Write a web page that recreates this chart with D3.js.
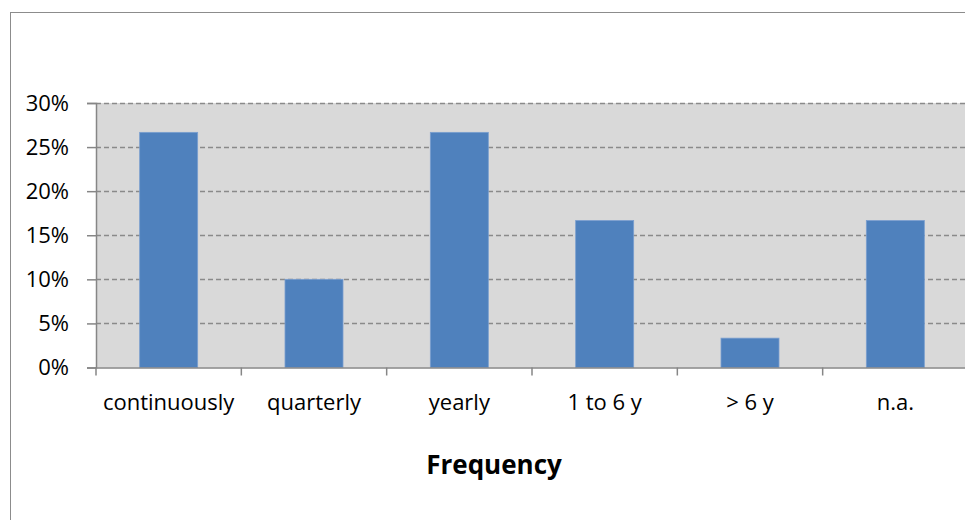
<!DOCTYPE html>
<html><head><meta charset="utf-8">
<script src="https://cdn.jsdelivr.net/npm/d3@7"></script>
<style>body{margin:0;background:#fff}svg{display:block}</style>
</head><body><svg id="c" width="965" height="520"></svg>
<script>
const categories = ["continuously","quarterly","yearly","1 to 6 y","> 6 y","n.a."];
const values = [0.2667,0.10,0.2667,0.1667,0.0333,0.1667];
const yTicks = [0,0.05,0.10,0.15,0.20,0.25,0.30];
const axisTitle = "Frequency";

const svg = d3.select("#c");
const font = "'Open Sans', sans-serif";
// outer chart border
svg.append("rect").attr("x",10.5).attr("y",12.5).attr("width",1000).attr("height",1000)
  .attr("fill","#fff").attr("stroke","#8c8c8c").attr("stroke-width",1);

const L=96, R=968, T=103, B=367.5;
const xb = d3.scaleBand().domain(categories).range([L,R]);
const y = d3.scaleLinear().domain([0,0.30]).range([B,T]);

svg.append("rect").attr("x",L).attr("y",T).attr("width",R-L).attr("height",B-T).attr("fill","#d9d9d9");

// gridlines
svg.append("g").selectAll("line").data(yTicks.filter(d=>d>0)).join("line")
  .attr("x1",L).attr("x2",R).attr("y1",d=>Math.round(y(d))+0.5).attr("y2",d=>Math.round(y(d))+0.5)
  .attr("stroke","#8a8a8a").attr("stroke-width",1.3).attr("stroke-dasharray","5,3");

// bars
svg.append("g").selectAll("rect").data(values).join("rect")
  .attr("x",(d,i)=>xb(categories[i])+xb.bandwidth()/2-29)
  .attr("width",58)
  .attr("y",d=>y(d)).attr("height",d=>B-y(d))
  .attr("fill","#4f81bd").attr("stroke","#7a9fd0").attr("stroke-width",0.8);

// y axis
const ya = svg.append("g").attr("transform",`translate(${L},0)`)
  .call(d3.axisLeft(y).tickValues(yTicks).tickFormat(d3.format(".0%")).tickSizeOuter(0).tickSize(9).tickPadding(18));
ya.select(".domain").attr("stroke","#868686").attr("stroke-width",1.5);
ya.selectAll(".tick line").attr("stroke","#868686").attr("stroke-width",1.5);
ya.selectAll("text").attr("font-family",font).attr("font-size",22).attr("fill","#000");

// x axis
const xa = svg.append("g").attr("transform",`translate(0,${B})`)
  .call(d3.axisBottom(xb).tickSize(0));
xa.select(".domain").attr("stroke","#868686").attr("stroke-width",1.5);
xa.selectAll("text").attr("font-family",font).attr("font-size",22).attr("fill","#000")
  .attr("y",410-B).attr("dy",0);
// tick marks at band boundaries
svg.append("g").selectAll("line").data(categories.concat(["_end"])).join("line")
  .attr("x1",(d,i)=>L+i*xb.step()).attr("x2",(d,i)=>L+i*xb.step())
  .attr("y1",B).attr("y2",B+8).attr("stroke","#868686").attr("stroke-width",1.5);

svg.append("text").attr("x",494).attr("y",474).attr("text-anchor","middle")
  .attr("font-family",font).attr("font-weight","bold").attr("font-size",26).text(axisTitle);
</script></body></html>
